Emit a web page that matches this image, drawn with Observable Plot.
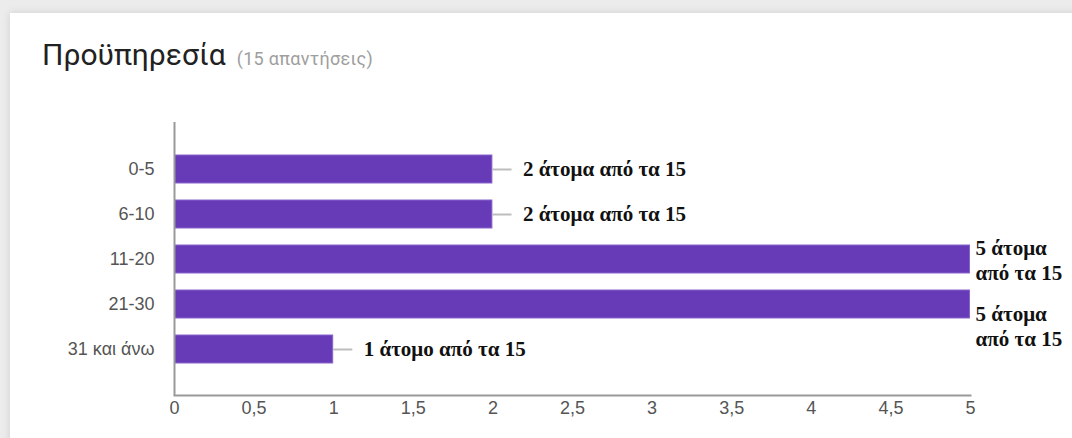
<!DOCTYPE html>
<html>
<head>
<meta charset="utf-8">
<script src="https://cdn.jsdelivr.net/npm/d3@7"></script>
<script src="https://cdn.jsdelivr.net/npm/@observablehq/plot@0.6"></script>
<style>
  html, body { margin: 0; padding: 0; }
  body { width: 1072px; height: 438px; overflow: hidden; background: #ececec; position: relative; font-family: "Liberation Sans", Arial, sans-serif; }
  #card { position: absolute; left: 10px; top: 13px; width: 1080px; height: 440px; background: #fff; box-shadow: 0 0 8px rgba(0,0,0,0.12); }
  #head { position: absolute; left: 0; top: 0; width: 1072px; height: 110px; }
  #title { position: absolute; left: 42px; top: 40px; line-height: 30px; font-family: Roboto, "Liberation Sans", sans-serif; font-size: 30px; color: #212121; white-space: nowrap; }
  #title span { font-size: 18px; color: #9e9e9e; margin-left: 11px; letter-spacing: 0.3px; }
  #chart { position: absolute; left: 0; top: 110px; }
</style>
</head>
<body>
<div id="card"></div>
<div id="head"><div id="title">Προϋπηρεσία<span>(15 απαντήσεις)</span></div></div>
<div id="chart"></div>
<script>
const categories = ["0-5", "6-10", "11-20", "21-30", "31 και άνω"];
const values = [2, 2, 5, 5, 1];
const labels = ["2 άτομα από τα 15", "2 άτομα από τα 15", "5 άτομα\nαπό τα 15", "5 άτομα\nαπό τα 15", "1 άτομο από τα 15"];
const xTicks = [0, 0.5, 1, 1.5, 2, 2.5, 3, 3.5, 4, 4.5, 5];

const data = categories.map((c, i) => ({category: c, value: values[i], label: labels[i]}));
const shortOnes = data.filter(d => d.value < 5);
const longOnes = data.filter(d => d.value >= 5);
const labelFont = {fill: "#111", fontWeight: "bold", fontFamily: "'Liberation Serif', 'DejaVu Serif', serif", fontSize: 21};
const fmt = d => String(d).replace(".", ",");

const chart = Plot.plot({
  width: 1072,
  height: 328,
  marginLeft: 174,
  marginRight: 102,
  marginTop: 12,
  marginBottom: 43,
  style: {fontFamily: "'Liberation Sans', Arial, sans-serif", fontSize: "18px", color: "#555", background: "transparent"},
  x: {domain: [0, 5], label: null},
  y: {domain: categories, paddingInner: 0.38, paddingOuter: 0.69, label: null, axis: null},
  marks: [
    Plot.barX(data, {x: "value", y: "category", fill: "#673ab7", stroke: "#8a64cc", strokeWidth: 1, insetLeft: 0.5, insetRight: 0.5}),
    Plot.ruleY(shortOnes, {y: "category", x1: "value", x2: d => d.value + 0.12, stroke: "#bdbdbd", strokeWidth: 2}),
    Plot.text(shortOnes, {x: "value", y: "category", text: "label", textAnchor: "start", dx: 30, ...labelFont}),
    Plot.text(longOnes.slice(0, 1), {x: "value", y: "category", text: "label", textAnchor: "start", dx: 5, lineHeight: 1.2, ...labelFont}),
    Plot.text(longOnes.slice(1), {x: "value", y: "category", text: "label", textAnchor: "start", dx: 5, dy: 21, lineHeight: 1.2, ...labelFont}),
    Plot.ruleX([0], {stroke: "#999", strokeWidth: 2}),
    Plot.axisY({tickSize: 0, tickPadding: 20, label: null, fontSize: 18, fill: "#555"}),
    Plot.axisX({ticks: xTicks, tickFormat: fmt, tickSize: 0, tickPadding: 6, label: null, fontSize: 18, fill: "#555"}),
    Plot.frame({anchor: "bottom", stroke: "#999", strokeWidth: 2})
  ]
});
document.getElementById("chart").appendChild(chart);
</script>
</body>
</html>
